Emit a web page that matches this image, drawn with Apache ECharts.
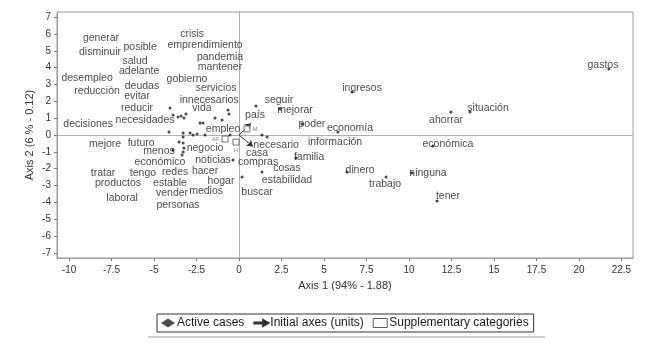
<!DOCTYPE html>
<html>
<head>
<meta charset="utf-8">
<script src="https://cdn.jsdelivr.net/npm/echarts@6/dist/echarts.min.js"></script>
<style>html,body{margin:0;padding:0;background:#fff}#c{width:655px;height:350px}</style>
</head>
<body>
<div id="c"></div>
<script>
// Word labels (positions of label centres in axis units)
const labelText = ['generar','disminuir','posible','crisis','emprendimiento','pandemia','mantener','salud','adelante','desempleo','gobierno','deudas','reducción','evitar','servicios','innecesarios','reducir','vida','necesidades','decisiones','mejore','futuro','menos','negocio','económico','noticias','tratar','tengo','redes','hacer','productos','estable','hogar','laboral','vender','medios','personas','empleo','seguir','país','mejorar','ingresos','poder','economía','necesario','información','casa','familia','compras','cosas','dinero','estabilidad','buscar','trabajo','ninguna','económica','ahorrar','situación','tener','gastos'];
const labelX = [-8.12,-8.18,-5.82,-2.76,-2.00,-1.12,-1.12,-6.12,-5.88,-8.94,-3.06,-5.71,-8.35,-6.00,-1.35,-1.76,-6.00,-2.18,-5.53,-8.88,-7.88,-5.76,-4.71,-2.00,-4.65,-1.53,-8.00,-5.65,-3.76,-2.00,-7.12,-4.06,-1.06,-6.88,-3.94,-1.94,-3.59,-0.94,2.35,0.94,3.29,7.24,4.29,6.53,2.18,5.65,1.06,4.12,1.12,2.82,7.12,2.82,1.06,8.59,11.12,12.29,12.18,14.65,12.29,21.41];
const labelY = [5.75,4.92,5.22,5.99,5.34,4.63,4.03,4.39,3.80,3.38,3.32,2.91,2.61,2.31,2.79,2.08,1.60,1.60,0.89,0.65,-0.53,-0.47,-0.95,-0.77,-1.60,-1.48,-2.25,-2.25,-2.19,-2.14,-2.85,-2.85,-2.73,-3.74,-3.44,-3.32,-4.15,0.36,2.08,1.19,1.48,2.79,0.65,0.42,-0.59,-0.42,-1.07,-1.30,-1.60,-1.96,-2.08,-2.67,-3.38,-2.91,-2.25,-0.53,0.89,1.60,-3.62,4.15];

// Active case points
const dotX = [-4.06,-3.88,-3.59,-3.41,-3.24,-3.12,-4.12,-3.29,-2.88,-2.71,-2.47,-2.00,-2.29,-2.12,-1.41,-1.00,-0.65,-0.59,-3.29,-3.53,-3.29,-3.24,-3.88,-3.29,-3.35,-0.53,-0.35,0.18,1.00,2.41,1.35,1.65,1.35,3.35,3.71,5.82,6.65,6.35,8.65,10.18,11.41,12.47,13.59,11.65,21.76];
const dotY = [1.60,1.19,1.07,1.13,1.01,1.25,0.18,0.12,0.12,0.00,0.06,0.00,0.71,0.71,1.01,0.89,1.48,1.25,-0.12,-0.42,-0.47,-0.77,-0.89,-1.01,-1.19,0.00,-1.48,-2.49,1.72,1.54,0.00,-0.12,-2.19,-1.36,0.65,0.18,2.55,-2.19,-2.49,-2.25,-0.65,1.36,1.36,-3.91,3.91];

// Supplementary categories
const suppText = ['AF','H','M'];
const suppX = [-0.82,-0.18,0.47];
const suppY = [-0.24,-0.42,0.36];
const suppPos = ['left','bottom','right'];

// Initial axes (arrow ends, from origin)
const arrowX = [0.70,0.82];
const arrowY = [0.70,-0.68];

// Axis ticks
const xTicks = [-10,-7.5,-5,-2.5,0,2.5,5,7.5,10,12.5,15,17.5,20,22.5];
const yTicks = [-7,-6,-5,-4,-3,-2,-1,0,1,2,3,4,5,6,7];

const FONT = '"Liberation Sans", Arial, sans-serif';
const chart = echarts.init(document.getElementById('c'), null, {renderer:'canvas'});

chart.setOption({
  animation: false,
  backgroundColor: '#fff',
  textStyle: {fontFamily: FONT},
  grid: {left: 57, right: 22, top: 12, bottom: 92, show: true, borderColor: '#9a9a9a', borderWidth: 1},
  xAxis: {
    type: 'value', min: -10.71, max: 23.18,
    name: 'Axis 1 (94% - 1.88)', nameLocation: 'middle', nameGap: 22,
    nameTextStyle: {fontFamily: FONT, fontSize: 11, color: '#333'},
    axisLine: {onZero: false, lineStyle: {color: '#9a9a9a'}},
    axisTick: {show: true, length: 3, customValues: xTicks, lineStyle: {color: '#777'}},
    axisLabel: {customValues: xTicks, fontFamily: FONT, fontSize: 10, color: '#333', margin: 7},
    splitLine: {show: false}
  },
  yAxis: {
    type: 'value', min: -7.3, max: 7.3,
    name: 'Axis 2 (6 % - 0.12)', nameLocation: 'middle', nameGap: 22, nameRotate: 90,
    nameMoveOverlap: false,
    nameTextStyle: {fontFamily: FONT, fontSize: 11, color: '#333'},
    axisLine: {show: true, onZero: false, lineStyle: {color: '#9a9a9a'}},
    axisTick: {show: true, length: 3, customValues: yTicks, lineStyle: {color: '#777'}},
    axisLabel: {customValues: yTicks, fontFamily: FONT, fontSize: 10, color: '#333', margin: 6},
    splitLine: {show: false}
  },
  legend: {
    left: 157, top: 314,
    padding: [3, 5, 3, 4],
    borderColor: '#333', borderWidth: 1,
    itemGap: 9, itemWidth: 14, itemHeight: 9,
    textStyle: {fontFamily: FONT, fontSize: 12, color: '#1a1a1a', padding: [0, 0, 0, -3]},
    selectedMode: false,
    data: [
      {name: 'Active cases', icon: 'diamond', itemStyle: {color: '#222'}},
      {name: 'Initial axes (units)', icon: 'path://M0,3.5 L10,3.5 L10,0.5 L16,4 L10,7.5 L10,4.5 L0,4.5 Z', itemStyle: {color: '#222'}},
      {name: 'Supplementary categories', icon: 'rect', itemStyle: {color: '#fff', borderColor: '#333', borderWidth: 1}}
    ]
  },
  graphic: [
    {type: 'line', shape: {x1: 148, y1: 337, x2: 545, y2: 337}, style: {stroke: '#999', lineWidth: 1}, silent: true}
  ],
  series: [
    {
      name: 'words', type: 'scatter', silent: true, z: 3,
      symbolSize: 0.1, itemStyle: {color: 'transparent'},
      data: labelText.map((t, i) => ({name: t, value: [labelX[i], labelY[i]]})),
      label: {show: true, position: 'inside', formatter: p => p.name, fontFamily: FONT, fontSize: 10.5, color: '#161616'},
      markLine: {
        silent: true, symbol: 'none', z: 1,
        lineStyle: {color: '#b0b0b0', type: 'solid', width: 1},
        label: {show: false},
        data: [{xAxis: 0}, {yAxis: 0}]
      }
    },
    {
      name: 'Active cases', type: 'scatter', z: 4, silent: true,
      symbol: 'circle', symbolSize: 3,
      itemStyle: {color: '#1a1a1a'},
      data: dotX.map((x, i) => [x, dotY[i]])
    },
    {
      name: 'Initial axes (units)', type: 'lines', coordinateSystem: 'cartesian2d', z: 5, silent: true,
      symbol: ['none', 'arrow'], symbolSize: 6,
      lineStyle: {color: '#333', width: 1, opacity: 1},
      data: arrowX.map((x, i) => ({coords: [[0, 0], [x, arrowY[i]]]}))
    },
    {
      name: 'Supplementary categories', type: 'scatter', z: 5, silent: true,
      symbol: 'rect', symbolSize: 6,
      itemStyle: {color: '#fff', borderColor: '#555', borderWidth: 1},
      data: suppText.map((t, i) => ({name: t, value: [suppX[i], suppY[i]], label: {position: suppPos[i]}})),
      label: {show: true, formatter: p => p.name, fontFamily: FONT, fontSize: 6, color: '#666', distance: 2}
    }
  ]
});
</script>
</body>
</html>
